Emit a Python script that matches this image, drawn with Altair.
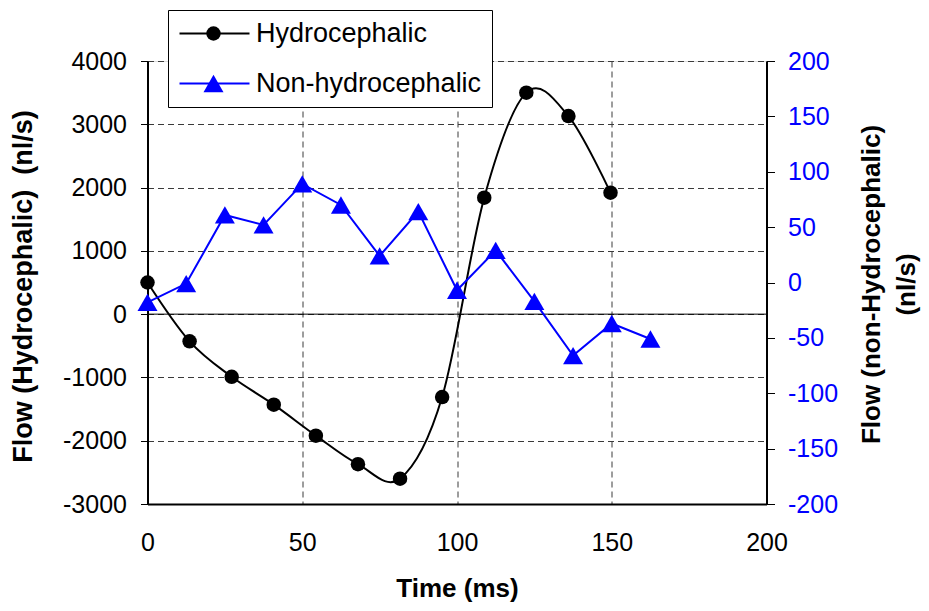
import altair as alt
import pandas as pd

# ---- data ----
series_names = ["Hydrocephalic", "Non-hydrocephalic"]
series_colors = ["#000000", "#0000ff"]
marker_shapes = ["circle", "triangle-up"]
marker_sizes = [210, 400]

h_time = [0, 13.6, 27.2, 40.8, 54.4, 68.0, 81.6, 95.2, 108.8, 122.4, 136.0, 149.6]
h_flow = [500, -430, -990, -1430, -1920, -2370, -2600, -1310, 1840, 3500, 3130, 1920]

n_time = [0, 12.5, 25, 37.5, 50, 62.5, 75, 87.5, 100, 112.5, 125, 137.5, 150, 162.5]
n_flow = [-18, -1, 61, 52, 89, 70, 24, 64, -7, 29, -17, -66, -37, -51]

x_ticks = [0, 50, 100, 150, 200]
left_ticks = [-3000, -2000, -1000, 0, 1000, 2000, 3000, 4000]
right_ticks = [-200, -150, -100, -50, 0, 50, 100, 150, 200]

FONT = "Liberation Sans"
W, H = 619, 443
LBL = 25
TTL = 27

h_df = pd.DataFrame({"time": h_time, "flow": h_flow,
                     "series": series_names[0], "marker": series_names[0]})
n_df = pd.DataFrame({"time": n_time, "flow": n_flow,
                     "series": series_names[1], "marker": series_names[1]})
zero_df = pd.DataFrame({"zero": [0]})

grid_kw = dict(grid=True, gridDash=[6, 4], gridColor="#3a3a3a", gridWidth=1, gridOpacity=1)

x_enc = alt.X("time:Q",
              scale=alt.Scale(domain=[0, 200], nice=False, zero=False),
              axis=alt.Axis(values=x_ticks, title="Time (ms)", ticks=False,
                            labelFlush=False, labelOverlap=False,
                            labelPadding=26, labelFontSize=LBL, labelFont=FONT,
                            labelColor="black", domainColor="black", domainWidth=2,
                            labelExpr="toString(datum.value)",
                            titleFont=FONT, titleFontSize=26, titleFontWeight="bold",
                            titleColor="black", titleX=W / 2, titleY=84,
                            titleBaseline="middle", **grid_kw))

marker_legend = alt.Legend(orient="none", legendX=20.5, legendY=-51, title=None,
                           labelFont=FONT, labelFontSize=27, labelColor="black",
                           labelOffset=29, symbolOffset=22, labelLimit=400,
                           padding=10, rowPadding=22, symbolStrokeWidth=0,
                           strokeColor="black", fillColor="white", zindex=1)

stroke_legend = alt.Legend(orient="none", legendX=53.5, legendY=-41, title=None,
                           symbolType="M-3.5,0H3.5", symbolSize=400, symbolStrokeWidth=2,
                           labelExpr="''", labelFontSize=27, padding=0, rowPadding=22,
                           zindex=2)

stroke_enc = alt.Stroke("series:N", scale=alt.Scale(domain=series_names, range=series_colors),
                        legend=stroke_legend)
color_enc = alt.Color("marker:N", scale=alt.Scale(range=series_colors), legend=marker_legend)
shape_enc = alt.Shape("marker:N", scale=alt.Scale(range=marker_shapes), legend=marker_legend)
size_enc = alt.Size("marker:N", scale=alt.Scale(range=marker_sizes), legend=marker_legend)

y_left = alt.Y("flow:Q", scale=alt.Scale(domain=[-3000, 4000], nice=False),
               axis=alt.Axis(orient="left", values=left_ticks,
                             title="Flow (Hydrocephalic)\u00a0 (nl/s)",
                             labelExpr="toString(datum.value)",
                             tickSize=7, tickColor="black", tickWidth=1,
                             labelPadding=14, labelFont=FONT, labelFontSize=LBL,
                             labelColor="black", domainColor="black", domainWidth=2,
                             titleFont=FONT, titleFontSize=TTL, titleFontWeight="bold",
                             titleColor="black", titleAngle=270, titleX=-124.5,
                             titleY=225, titleAlign="center", titleBaseline="middle",
                             **grid_kw))

y_right = alt.Y("flow:Q", scale=alt.Scale(domain=[-200, 200], nice=False),
                axis=alt.Axis(orient="right", values=right_ticks,
                              title=["Flow (non-Hydrocephalic)", "(nl/s)"],
                              labelExpr="toString(datum.value)",
                              grid=False, tickSize=8, tickColor="black", tickWidth=1,
                              labelPadding=13, labelFont=FONT, labelFontSize=LBL,
                              labelColor="#0000ff", domainColor="black", domainWidth=2,
                              titleFont=FONT, titleFontSize=26, titleFontWeight="bold",
                              titleColor="black", titleAngle=270, titleX=105,
                              titleY=223, titleAlign="center", titleBaseline="middle",
                              titleLineHeight=35))

h_line = alt.Chart(h_df).mark_line(interpolate="cardinal", strokeWidth=2).encode(
    x=x_enc, y=y_left, stroke=stroke_enc)
h_pts = alt.Chart(h_df).mark_point(filled=True, opacity=1).encode(
    x=x_enc, y=y_left, color=color_enc, shape=shape_enc, size=size_enc)
zero_rule = alt.Chart(zero_df).mark_rule(color="black", strokeWidth=1).encode(
    y=alt.Y("zero:Q", scale=alt.Scale(domain=[-3000, 4000], nice=False)))

n_line = alt.Chart(n_df).mark_line(strokeWidth=2).encode(
    x=x_enc, y=y_right, stroke=stroke_enc)
n_pts = alt.Chart(n_df).mark_point(filled=True, opacity=1).encode(
    x=x_enc, y=y_right, color=color_enc, shape=shape_enc, size=size_enc)

left = alt.layer(zero_rule, h_line, h_pts)
right = alt.layer(n_line, n_pts)

chart = alt.layer(left, right).resolve_scale(y="independent").properties(
    width=W, height=H,
    autosize=alt.AutoSizeParams(type="none"),
    padding={"left": 139.5, "top": 53, "right": 154.5, "bottom": 99},
).configure_view(stroke="black", strokeWidth=2).configure(background="white")

chart.save("out.html", embed_options={"renderer": "svg", "actions": False})
